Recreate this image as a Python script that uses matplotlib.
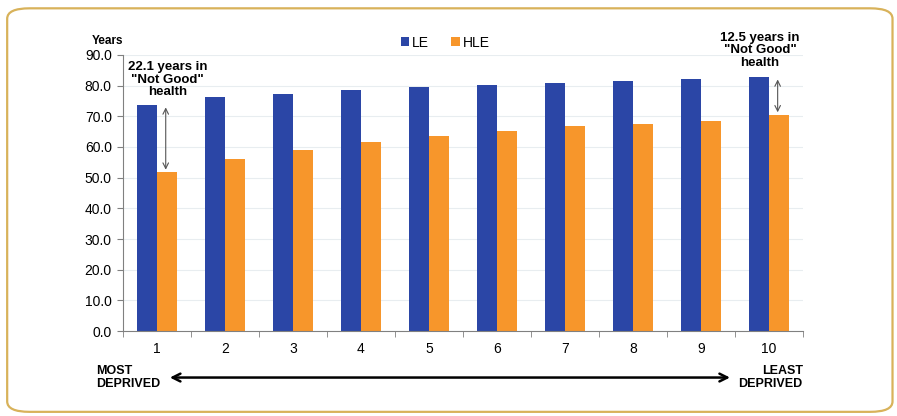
import matplotlib.pyplot as plt
import numpy as np
from matplotlib.patches import FancyBboxPatch

plt.rcParams['font.family'] = ['Liberation Sans', 'DejaVu Sans']

# decile 1 = most deprived, 10 = least deprived
deciles = ["1", "2", "3", "4", "5", "6", "7", "8", "9", "10"]
le = [73.8, 76.4, 77.4, 78.7, 79.7, 80.3, 81.0, 81.6, 82.3, 82.9]
hle = [51.7, 56.1, 59.0, 61.6, 63.6, 65.2, 66.9, 67.5, 68.5, 70.4]
yticks = [0, 10, 20, 30, 40, 50, 60, 70, 80, 90]

le_color = "#2b46a6"
hle_color = "#f7962b"

fig = plt.figure(figsize=(8.97, 4.16), dpi=100)

# rounded frame around the whole chart
frame = FancyBboxPatch((0.008, 0.01), 0.987, 0.97, boxstyle="round,pad=0,rounding_size=0.025",
                       transform=fig.transFigure, facecolor="white",
                       edgecolor="#d8b25a", linewidth=1.6, zorder=-1)
fig.add_artist(frame)

ax = fig.add_axes([0.137, 0.204, 0.758, 0.664])
ax.patch.set_alpha(0)

x = np.arange(len(deciles))
w = 0.29
ax.bar(x - w / 2, le, w, color=le_color, label="LE", zorder=2)
ax.bar(x + w / 2, hle, w, color=hle_color, label="HLE", zorder=2)

ax.set_xlim(-0.5, len(deciles) - 0.5)
ax.set_ylim(0, 90)
ax.set_yticks(yticks)
ax.set_yticklabels([f"{v:.1f}" for v in yticks], fontsize=10)
ax.set_xticks(x)
ax.set_xticklabels(deciles, fontsize=10)
ax.set_xticks(np.arange(-0.5, len(deciles)), minor=True)
ax.tick_params(axis="x", which="major", length=0, pad=8)
ax.tick_params(axis="x", which="minor", length=4, color="#808080")
ax.tick_params(axis="y", length=4, color="#808080", pad=4)
ax.yaxis.grid(True, color="#e8edf0", linewidth=0.8, zorder=0)
for s in ["top", "right"]:
    ax.spines[s].set_visible(False)
for s in ["left", "bottom"]:
    ax.spines[s].set_color("#808080")

ax.text(0.0, 1.05, "Years", transform=ax.transAxes, ha="right", va="center",
        fontsize=8.5, fontweight="bold")

leg = ax.legend(loc="upper center", bbox_to_anchor=(0.474, 1.115), ncol=2, frameon=False,
                fontsize=10, handlelength=0.6, handleheight=0.6, handletextpad=0.2,
                columnspacing=1.6)

# gap arrows for first and last decile
for i in [0, len(deciles) - 1]:
    ax.annotate("", xy=(i + 0.13, hle[i]), xytext=(i + 0.13, le[i]),
                arrowprops=dict(arrowstyle="<->", color="#555555", lw=0.8), zorder=3)

ax.text(0.16, 88.0, f"{le[0] - hle[0]:.1f} years in\n\"Not Good\"\nhealth",
        ha="center", va="top", fontsize=9.5, fontweight="bold", linespacing=1.05)
ax.text(8.87, 97.5, f"{le[-1] - hle[-1]:.1f} years in\n\"Not Good\"\nhealth",
        ha="center", va="top", fontsize=9.5, fontweight="bold", linespacing=1.05,
        clip_on=False)

# deprivation direction arrow below the axis
ax.annotate("", xy=(0.065, -0.168), xytext=(0.897, -0.168), xycoords="axes fraction",
            arrowprops=dict(arrowstyle="<->", color="black", lw=1.8, mutation_scale=14))
ax.text(-0.04, -0.168, "MOST\nDEPRIVED", transform=ax.transAxes, ha="left", va="center",
        fontsize=9, fontweight="bold", linespacing=1.05)
ax.text(1.0, -0.168, "LEAST\nDEPRIVED", transform=ax.transAxes, ha="right", va="center",
        fontsize=9, fontweight="bold", linespacing=1.05)

fig.savefig("out.png", dpi=100)
